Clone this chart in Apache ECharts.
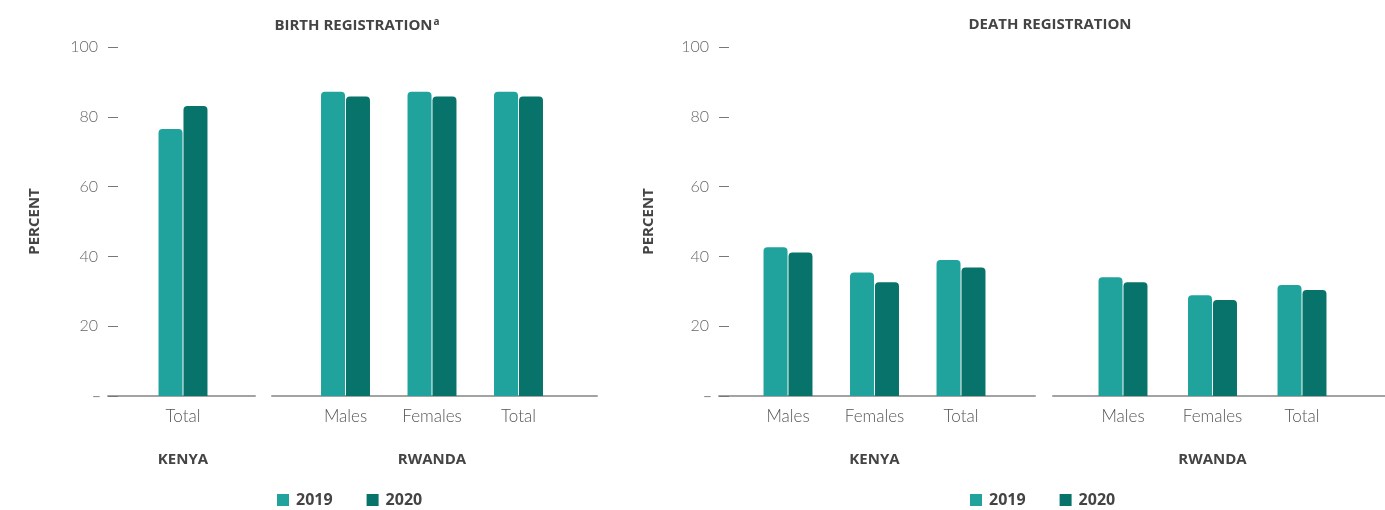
<!DOCTYPE html>
<html>
<head>
<meta charset="utf-8">
<script src="https://cdn.jsdelivr.net/npm/echarts@6/dist/echarts.min.js"></script>
<style>
html,body{margin:0;padding:0;background:#fff;}
#chart{width:1385px;height:510px;}
</style>
</head>
<body>
<div id="chart"></div>
<script>
// ---- data ----
var seriesNames = ['2019', '2020'];
var birthKenyaCats = ['Total'];
var birthKenya2019 = [76.5];
var birthKenya2020 = [83.1];
var birthRwandaCats = ['Males', 'Females', 'Total'];
var birthRwanda2019 = [87.2, 87.2, 87.2];
var birthRwanda2020 = [85.8, 85.8, 85.8];
var deathKenyaCats = ['Males', 'Females', 'Total'];
var deathKenya2019 = [42.6, 35.4, 39.0];
var deathKenya2020 = [41.1, 32.6, 36.8];
var deathRwandaCats = ['Males', 'Females', 'Total'];
var deathRwanda2019 = [34.0, 28.9, 31.8];
var deathRwanda2020 = [32.6, 27.5, 30.4];
var groupNames = ['KENYA', 'RWANDA'];
var titles = ['BIRTH REGISTRATION', 'DEATH REGISTRATION'];
var yAxisName = 'PERCENT';
var yMin = 0, yMax = 100, yInterval = 20;

// ---- styles ----
var C2019 = '#1fa39c', C2020 = '#07736a';
var LIGHT = 'Lato';
var BOLD = 'Open Sans';
var TOP = 47, H = 349;

var grids = [
  {left: 108, width: 147},     // 0 birth kenya frame
  {left: 139.75, width: 86.5}, // 1 birth kenya bars
  {left: 272, width: 325},     // 2 birth rwanda frame
  {left: 302.25, width: 259.5},// 3 birth rwanda bars
  {left: 719, width: 316},     // 4 death kenya frame
  {left: 744.75, width: 259.5},// 5 death kenya bars
  {left: 1053, width: 332},    // 6 death rwanda frame
  {left: 1078.25, width: 268.5}// 7 death rwanda bars
].map(function (g) { return {left: g.left, width: g.width, top: TOP, height: H, containLabel: false}; });

var catSets = [birthKenyaCats, birthRwandaCats, deathKenyaCats, deathRwandaCats];
var groupOf = [0, 1, 0, 1];

var xAxes = [], yAxes = [];
for (var i = 0; i < 8; i++) {
  var isFrame = i % 2 === 0;
  var panel = Math.floor(i / 2);
  if (isFrame) {
    xAxes.push({
      gridIndex: i, type: 'category', data: [''],
      axisLine: {show: true, lineStyle: {color: '#a3a3a3', width: 2}},
      axisTick: {show: false}, axisLabel: {show: false}
    });
    var showY = (panel === 0 || panel === 2);
    yAxes.push({
      gridIndex: i, type: 'value', min: yMin, max: yMax, interval: yInterval,
      show: showY,
      name: showY ? yAxisName : '',
      nameLocation: 'middle',
      nameGap: panel === 0 ? 66 : 63,
      nameRotate: 90,
      nameTextStyle: {fontFamily: BOLD, fontWeight: 'bold', fontSize: 15, color: '#444'},
      axisLine: {show: false},
      axisTick: {show: true, inside: true, length: 10, lineStyle: {color: '#777', width: 1}},
      splitLine: {show: false},
      axisLabel: {
        margin: 7,
        formatter: function (v) { return v === 0 ? '{z|–}' : '{a|' + v + '}{s|}'; },
        rich: {
          a: {fontFamily: LIGHT, fontWeight: 300, fontSize: 16, color: '#666'},
          s: {width: 3},
          z: {fontFamily: LIGHT, fontWeight: 400, fontSize: 16, color: '#888'}
        }
      }
    });
  } else {
    xAxes.push({
      gridIndex: i, type: 'category', data: catSets[panel],
      axisLine: {show: false}, axisTick: {show: false},
      axisLabel: {margin: 12, fontFamily: LIGHT, fontWeight: 300, fontSize: 17, color: '#555'},
      name: groupNames[groupOf[panel]],
      nameLocation: 'middle', nameGap: 56,
      nameTextStyle: {fontFamily: BOLD, fontWeight: 'bold', fontSize: 15, color: '#444'}
    });
    yAxes.push({gridIndex: i, type: 'value', min: yMin, max: yMax, show: false});
  }
}

var dataSets = [
  [birthKenya2019, birthKenya2020],
  [birthRwanda2019, birthRwanda2020],
  [deathKenya2019, deathKenya2020],
  [deathRwanda2019, deathRwanda2020]
];
var series = [];
dataSets.forEach(function (pair, p) {
  var idx = p * 2 + 1;
  pair.forEach(function (vals, k) {
    series.push({
      name: seriesNames[k], type: 'bar', xAxisIndex: idx, yAxisIndex: idx,
      data: vals, barWidth: 24, barGap: '4%',
      itemStyle: {color: k === 0 ? C2019 : C2020, borderRadius: [4, 4, 0, 0]},
      emphasis: {disabled: true}
    });
  });
});

var titleRich = {
  t: {fontFamily: BOLD, fontWeight: 'bold', fontSize: 15, color: '#444'},
  s: {fontFamily: BOLD, fontWeight: 'bold', fontSize: 10, color: '#444', padding: [0, 0, 8, 1]}
};

var legendStyle = {
  top: 487, icon: 'rect', itemWidth: 12, itemHeight: 12, itemGap: 34, itemStyle: {borderWidth: 0},
  data: seriesNames, selectedMode: false,
  textStyle: {fontFamily: BOLD, fontWeight: 'bold', fontSize: 16, color: '#444', padding: [0, 0, 0, 2]}
};

var option = {
  animation: false,
  backgroundColor: '#fff',
  title: [
    {text: '{t|' + titles[0] + '}{s|a}', left: 352, top: 12, textAlign: 'center', textStyle: {rich: titleRich}},
    {text: '{t|' + titles[1] + '}', left: 1045, top: 12, textAlign: 'center', textStyle: {rich: titleRich}}
  ],
  legend: [
    Object.assign({left: 272}, legendStyle),
    Object.assign({left: 965}, legendStyle)
  ],
  grid: grids,
  xAxis: xAxes,
  yAxis: yAxes,
  series: series
};

var chart = echarts.init(document.getElementById('chart'), null, {renderer: 'canvas'});
chart.setOption(option);
</script>
</body>
</html>
